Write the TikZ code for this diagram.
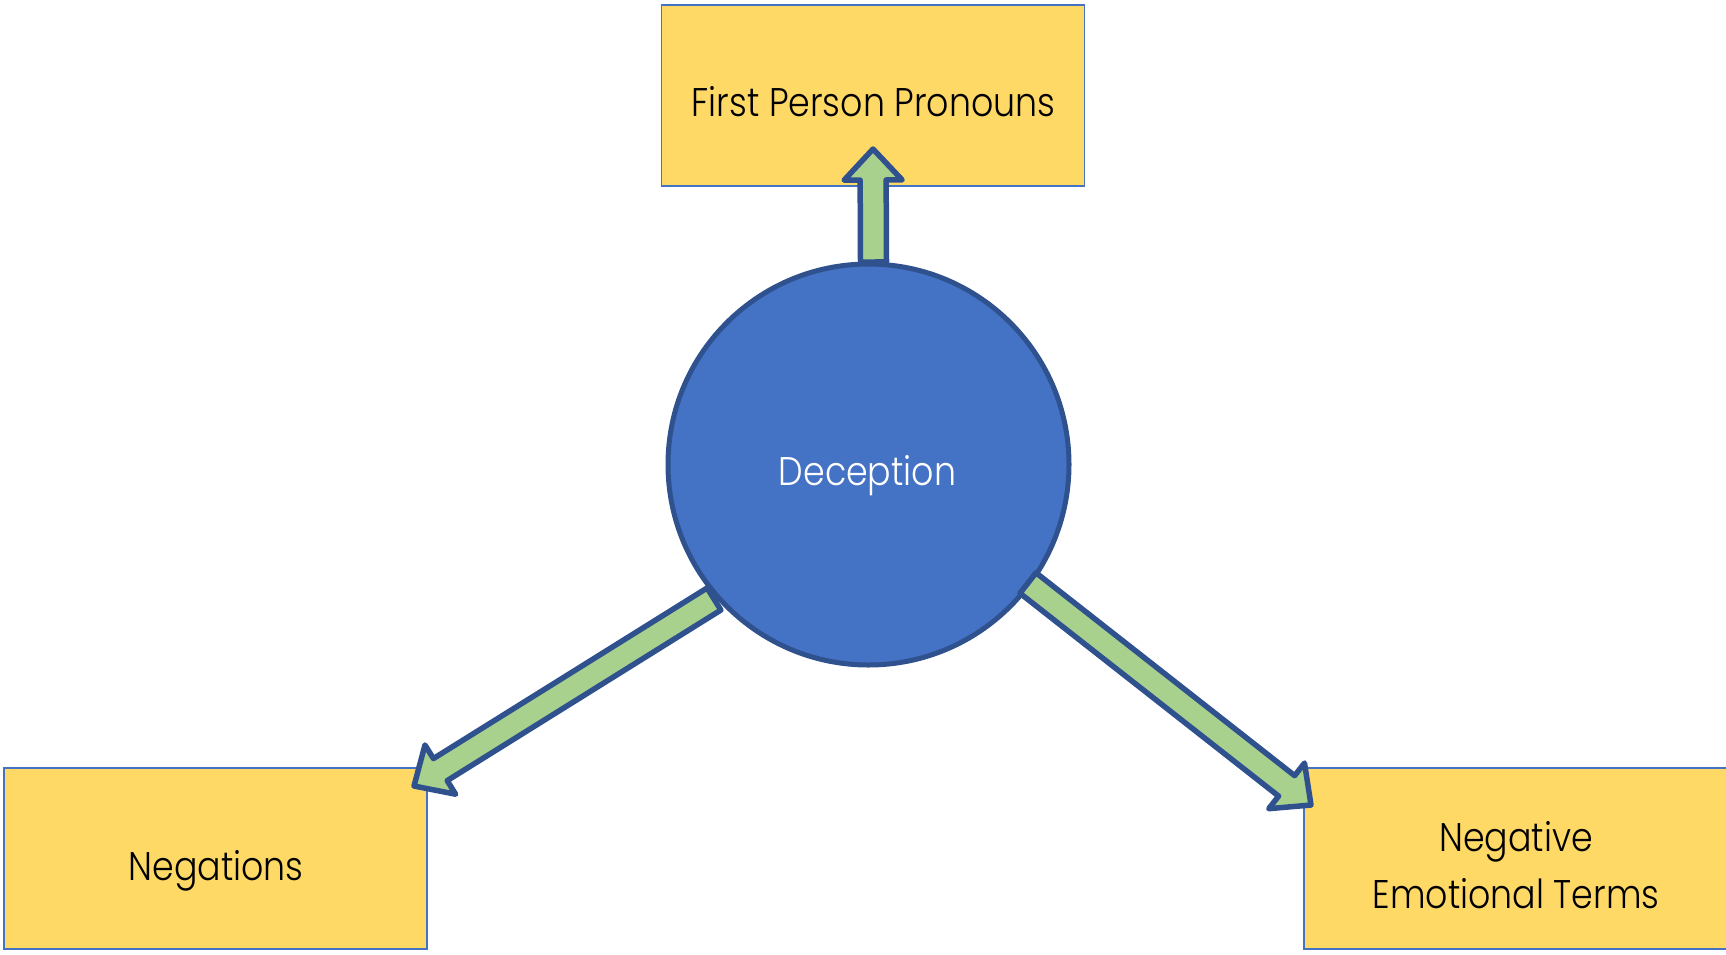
\documentclass[tikz,border=0pt]{standalone}
\usepackage{fontspec}
\setmainfont{Poppins}[UprightFont={* Light}]
\usetikzlibrary{calc}
\definecolor{boxfill}{HTML}{FFD966}
\definecolor{boxline}{HTML}{4472C4}
\definecolor{circfill}{HTML}{4472C4}
\definecolor{darkline}{HTML}{2F528F}
\definecolor{arrowfill}{HTML}{A9D18E}
\newcommand\narrowtext[1]{\scalebox{0.87}[1]{#1}}
\newcommand\blockarrow[2]{%
  \coordinate (H) at ($(#2)!31pt!(#1)$);
  \draw[fatarrow] ($(#1)!13pt!90:(#2)$) -- ($(H)!13pt!90:(#2)$) -- ($(H)!29pt!90:(#2)$) -- (#2)
    -- ($(H)!29pt!-90:(#2)$) -- ($(H)!13pt!-90:(#2)$) -- ($(#1)!13pt!-90:(#2)$) -- cycle;}
\begin{document}
\begin{tikzpicture}[x=1pt,y=-1pt,
  labelbox/.style={draw=boxline, line width=1.4pt, fill=boxfill, rectangle, inner sep=0pt,
    minimum width=423pt, minimum height=181pt},
  labeltext/.style={anchor=base, inner sep=0pt, font=\fontsize{40}{57}\selectfont},
  fatarrow/.style={draw=darkline, line width=5.5pt, fill=arrowfill, line join=round},
  hub/.style={circle, draw=darkline, line width=5pt, fill=circfill, minimum size=401pt,
    inner sep=0pt}]
\useasboundingbox (0,0) rectangle (1726,954);
\node[labelbox] (fpp) at (873,95.5) {};
\node[labelbox] (neg) at (215.5,858.5) {};
\node[labelbox] (net) at (1515.5,858.5) {};
\node[hub] (dec) at (868.5,464.5) {};
\node[labeltext] (fppt) at (873.5,116) {\narrowtext{First Person Pronouns}};
\node[labeltext] (negt) at (216,880) {\narrowtext{Negations}};
\node[labeltext] (net1) at (1516,851) {\narrowtext{Negative}};
\node[labeltext] (net2) at (1516,908) {\narrowtext{Emotional Terms}};
\node[labeltext, text=white] (dect) at (867.5,485) {\narrowtext{Deception}};
\coordinate (s1) at (873.5,262);
\coordinate (t1) at (873,149);
\coordinate (s2) at (714,599);
\coordinate (t2) at (414,786);
\coordinate (s3) at (1028,583);
\coordinate (t3) at (1311,805);
\blockarrow{s1}{t1}
\blockarrow{s2}{t2}
\blockarrow{s3}{t3}
\end{tikzpicture}
\end{document}
